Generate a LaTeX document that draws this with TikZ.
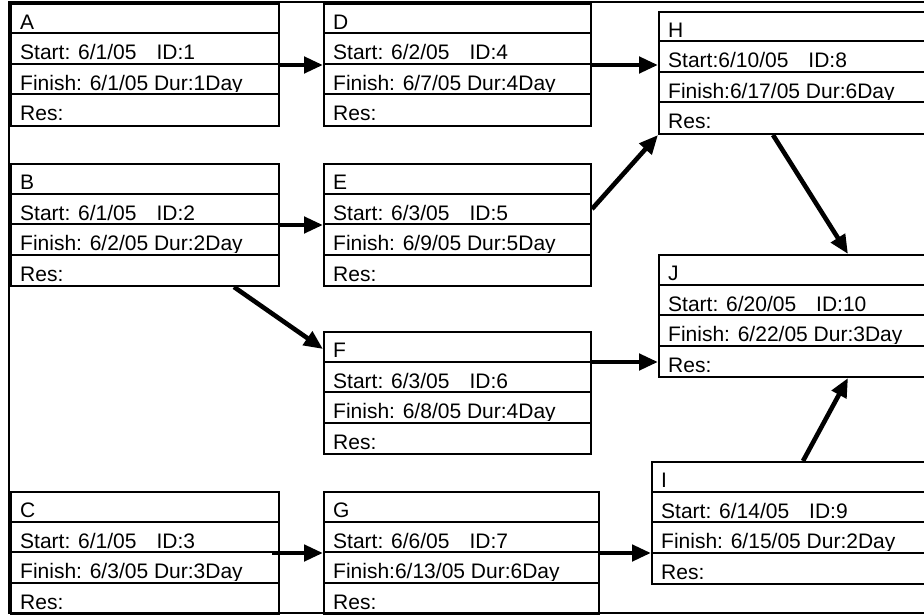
\documentclass[tikz,border=0pt]{standalone}
\usepackage{fontspec}
\setmainfont{Liberation Sans}
\usepackage{tikz}
\usetikzlibrary{arrows.meta}

\begin{document}
\begin{tikzpicture}[x=1pt,y=-1pt,>={Triangle[length=19pt,width=16pt]},
    font=\fontsize{21}{25}\selectfont,
    task/.style={draw,line width=2pt,anchor=north west,inner sep=0pt,minimum height=122pt},
    link/.style={->,line width=4.6pt}]
  \clip (0,0) rectangle (924,615);
  \draw[line width=2pt] (930,2) -| (9,613) -- (930,613);
  % name/x/y/width/start/id/finish
  \foreach \n/\x/\y/\w/\s/\i/\f in {
      A/10/3/268/{Start: 6/1/05}/1/{Finish: 6/1/05 Dur:1Day},
      B/10/163/268/{Start: 6/1/05}/2/{Finish: 6/2/05 Dur:2Day},
      C/10/491/268/{Start: 6/1/05}/3/{Finish: 6/3/05 Dur:3Day},
      D/323/3/267/{Start: 6/2/05}/4/{Finish: 6/7/05 Dur:4Day},
      E/323/163/267/{Start: 6/3/05}/5/{Finish: 6/9/05 Dur:5Day},
      F/323/331/267/{Start: 6/3/05}/6/{Finish: 6/8/05 Dur:4Day},
      G/323/491/275/{Start: 6/6/05}/7/{Finish:6/13/05 Dur:6Day},
      H/658/11/300/{Start:6/10/05}/8/{Finish:6/17/05 Dur:6Day},
      I/651/461/300/{Start: 6/14/05}/9/{Finish: 6/15/05 Dur:2Day},
      J/658/254/300/{Start: 6/20/05}/10/{Finish: 6/22/05 Dur:3Day}}{
    \foreach \k/\txt in {0/\n,1/{\s\hspace{20pt}ID:\i},2/\f,3/{Res:}}{
      \begin{scope}
        \clip (\x,{\y+\k*30.5}) rectangle ({\x+\w},{\y+(\k+1)*30.5-2.5});
        \node[anchor=base west,inner sep=0pt] at ({\x+10},{\y+(\k+1)*30.5-4}) {\txt};
      \end{scope}
    }
    \node[task,minimum width=\w pt] (\n) at (\x,\y) {};
    \foreach \k in {1,2,3}
      \draw[line width=2pt] (\x,{\y+\k*30.5}) -- ({\x+\w},{\y+\k*30.5});
  }
  \draw[link] (A.east) -- (D.west);
  \draw[link] (D.east) -- (D.east -| H.west);
  \draw[link] (B.east) -- (E.west);
  \draw[link] ([yshift=16pt]E.east) -- (H.south west);
  \draw[link] ([xshift=-46pt]B.south east) -- ([yshift=-18pt]F.north west);
  \draw[link] ([yshift=-31pt]F.north east) -- ([yshift=-31pt]F.north east -| J.west);
  \draw[link] ([xshift=115pt]H.south west) -- ([xshift=190pt]J.north west);
  \draw[link] ([xshift=152pt]I.north west) -- ([xshift=190pt]J.south west);
  \draw[link] ([xshift=-8pt]C.east) -- (G.west);
  \draw[link] (G.east) -- (G.east -| I.west);
\end{tikzpicture}
\end{document}
